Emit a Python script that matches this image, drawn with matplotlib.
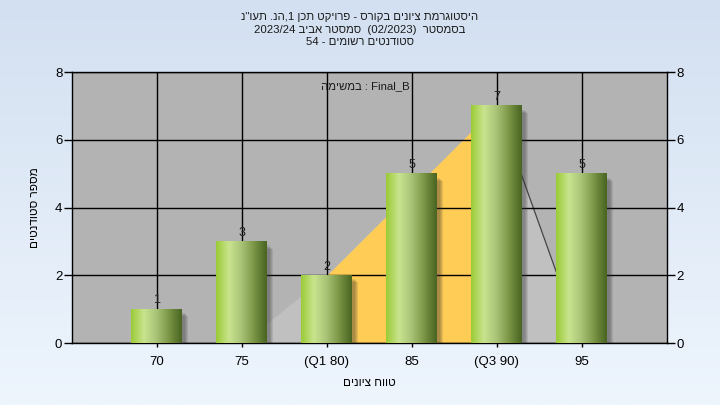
import re
import numpy as np
import matplotlib
matplotlib.use("Agg")
import matplotlib.pyplot as plt
from matplotlib.colors import LinearSegmentedColormap
from matplotlib.patches import Rectangle

plt.rcParams['font.family'] = ['Liberation Sans', 'DejaVu Sans']

# data
categories = ['70', '75', '(Q1 80)', '85', '(Q3 90)', '95']
counts = [1, 3, 2, 5, 7, 5]
# distribution area drawn behind the bars
area_vals = [0, 0, 2, 4.5, 7, 0]
q1_idx, q3_idx = 2, 4

title_lines = ['היסטוגרמת ציונים בקורס - פרויקט תכן 1,הנ. תעו"נ',
               'בסמסטר  (02/2023)  סמסטר אביב 2023/24',
               'סטודנטים רשומים - 54']
task_label = 'Final_B : במשימה'
x_title = 'טווח ציונים'
y_title = 'מספר סטודנטים'


def rtl(s):
    # matplotlib has no bidi support, so put hebrew text in visual order
    s = s[::-1]
    s = re.sub(r'[A-Za-z0-9_/]+', lambda m: m.group(0)[::-1], s)
    return s.translate(str.maketrans('()', ')('))


fig = plt.figure(figsize=(7.2, 4.05), dpi=100)

# page background gradient
bg = fig.add_axes([0, 0, 1, 1], zorder=-10)
bg_cmap = LinearSegmentedColormap.from_list('bg', ['#d3e0f1', '#eef5fd'])
bg.imshow(np.linspace(0, 1, 256).reshape(-1, 1), aspect='auto', cmap=bg_cmap,
          extent=[0, 1, 0, 1], origin='upper')
bg.axis('off')

ax = fig.add_axes([0.1, 0.153, 0.826, 0.669])
ax.set_facecolor('#b3b3b3')
x = np.arange(len(categories))

# area behind bars: light gray, orange between Q1 and Q3
ax.fill_between(x, area_vals, color='#c0c0c0', lw=0, zorder=1)
mask = (x >= q1_idx) & (x <= q3_idx)
ax.fill_between(x, area_vals, where=mask, color='#ffcc55', lw=0, zorder=1.1)
ax.plot(x[q3_idx:], area_vals[q3_idx:], color='#444444', lw=0.9, zorder=1.2)

ax.grid(True, color='black', lw=1)
ax.set_axisbelow(False)

bar_cmap = LinearSegmentedColormap.from_list(
    'bar', ['#9ccb38', '#c9e48e', '#a9c377', '#7a9645', '#4a6422'])
w = 0.6
for i, c in enumerate(counts):
    # soft shadow
    for k in range(4):
        ax.add_patch(Rectangle((i - w / 2 + 0.03 + k * 0.012, -0.12 - k * 0.03), w, c,
                               color='#333333', alpha=0.12, lw=0, zorder=3))
    ax.imshow(np.linspace(0, 1, 64).reshape(1, -1), cmap=bar_cmap, aspect='auto',
              extent=[i - w / 2, i + w / 2, 0, c], zorder=4)
    ax.annotate(str(c), (i, c), xytext=(0, 2), textcoords='offset points',
                ha='center', va='bottom', fontsize=9, color='#1f1f1f', zorder=6)

ax.set_xlim(-1, len(categories))
ax.set_ylim(0, 8)
ax.set_yticks(range(0, 9, 2))
ax.set_xticks(x)
ax.set_xticklabels(categories)
ax.tick_params(axis='y', left=True, right=True, labelleft=True, labelright=True,
               direction='out', length=6, width=1, pad=1, labelsize=9.5, colors='black')
ax.tick_params(axis='x', direction='out', length=3, width=1, pad=6, labelsize=9.5)
for sp in ax.spines.values():
    sp.set_color('black')
    sp.set_linewidth(1)

ax.set_xlabel(rtl(x_title), fontsize=8.5, labelpad=7)
ax.set_ylabel(rtl(y_title), fontsize=8.5, labelpad=10)

fig.text(0.5, 1 - 17 / 405, rtl(title_lines[0]), ha='center', va='center', fontsize=8.2, color='#1a1a1a')
fig.text(0.5, 1 - 30 / 405, rtl(title_lines[1]), ha='center', va='center', fontsize=8.2, color='#1a1a1a')
fig.text(0.5, 1 - 42 / 405, rtl(title_lines[2]), ha='center', va='center', fontsize=8.2, color='#1a1a1a')
ax.text(0.494, 0.95, rtl(task_label), transform=ax.transAxes, ha='center', va='center',
        fontsize=8.2, color='#1a1a1a')

fig.savefig('out.png', dpi=100)
